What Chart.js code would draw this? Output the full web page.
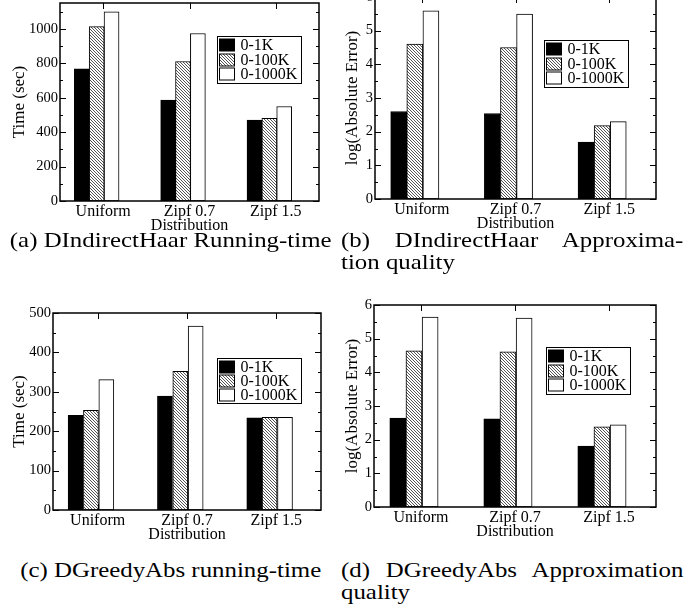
<!DOCTYPE html>
<html>
<head>
<meta charset="utf-8">
<script src="https://cdn.jsdelivr.net/npm/chart.js@4.4.0/dist/chart.umd.min.js"></script>
<style>
  html, body { margin: 0; padding: 0; background: #fff; }
  body { width: 689px; height: 604px; position: relative; overflow: hidden;
         font-family: 'Liberation Serif', 'Times New Roman', serif; color: #000; }
  .panel { position: absolute; }
  .panel canvas { display: block; }
  .cap { position: absolute; font-size: 22px; line-height: 22px; white-space: nowrap;
         transform-origin: 0 0; transform: scaleX(1.13); }
  .just { text-align: justify; text-align-last: justify; }
</style>
</head>
<body>

<div class="panel" style="left:0;top:-10px"><canvas id="chart-a" width="340" height="246"></canvas></div>
<div class="panel" style="left:340px;top:-20px"><canvas id="chart-b" width="349" height="256"></canvas></div>
<div class="panel" style="left:0;top:300px"><canvas id="chart-c" width="340" height="245"></canvas></div>
<div class="panel" style="left:340px;top:290px"><canvas id="chart-d" width="349" height="252"></canvas></div>

<!-- légendes des sous-figures -->
<div class="cap" style="left:4px;top:229px;width:295px;text-align:center">(a) DIndirectHaar Running-time</div>
<div class="cap just" style="left:341px;top:229px;width:303px">(b) DIndirectHaar Approxima-</div>
<div class="cap" style="left:341px;top:251px">tion quality</div>
<div class="cap" style="left:4px;top:559px;width:295px;text-align:center">(c) DGreedyAbs running-time</div>
<div class="cap just" style="left:341px;top:559px;width:303px">(d) DGreedyAbs Approximation</div>
<div class="cap" style="left:341px;top:581px">quality</div>

<script>
// ── Données ───────────────────────────────────────────────────────────────────
const CATEGORIES = ['Uniform', 'Zipf 0.7', 'Zipf 1.5'];
const SERIES     = ['0-1K', '0-100K', '0-1000K'];

// (a) DIndirectHaar : temps d'exécution (sec)
const HAAR_TIME_1K    = [767, 586, 470];
const HAAR_TIME_100K  = [1013, 810, 480];
const HAAR_TIME_1000K = [1099, 973, 549];

// (b) DIndirectHaar : log(erreur absolue)
const HAAR_ERR_1K    = [2.60, 2.54, 1.69];
const HAAR_ERR_100K  = [4.60, 4.50, 2.18];
const HAAR_ERR_1000K = [5.59, 5.49, 2.30];

// (c) DGreedyAbs : temps d'exécution (sec)
const GREEDY_TIME_1K    = [240, 289, 234];
const GREEDY_TIME_100K  = [253, 352, 235];
const GREEDY_TIME_1000K = [331, 467, 235];

// (d) DGreedyAbs : log(erreur absolue)
const GREEDY_ERR_1K    = [2.64, 2.62, 1.81];
const GREEDY_ERR_100K  = [4.64, 4.61, 2.38];
const GREEDY_ERR_1000K = [5.64, 5.61, 2.44];

// ── Style ─────────────────────────────────────────────────────────────────────
const FONT = '"Liberation Serif", "Times New Roman", serif';
Chart.defaults.font.family = FONT;
Chart.defaults.color = '#000';

const BAR_OFFSET = [-0.247, -0.075, 0.097];   // décalage de chaque série autour du tick
const BAR_FRAC   = 0.172;                     // largeur d'une barre en unités de catégorie

function hatch() {
  const c = document.createElement('canvas');
  c.width = 3; c.height = 3;
  const g = c.getContext('2d');
  g.fillStyle = '#fff'; g.fillRect(0, 0, 3, 3);
  g.fillStyle = '#555';
  for (let i = 0; i < 3; i++) g.fillRect(i, i, 1, 1);
  return g.createPattern(c, 'repeat');
}
const FILLS = ['#000', hatch(), '#fff'];

// ── Plugins : cadre + ticks intérieurs, légende encadrée ──────────────────────
const frameTicks = {
  id: 'frameTicks',
  beforeDatasetsDraw(chart, args, opts) {
    const { ctx, chartArea: a, scales: { x, y } } = chart;
    ctx.save();
    ctx.strokeStyle = '#000';
    ctx.lineWidth = 1;
    ctx.beginPath();
    const n = Math.round(y.max / opts.minor);
    for (let k = 0; k <= n; k++) {
      const v = k * opts.minor;
      const py = Math.round(y.getPixelForValue(v)) + 0.5;
      const len = (k % 2 === 0) ? 6 : 3;
      ctx.moveTo(a.left, py);  ctx.lineTo(a.left + len, py);
      ctx.moveTo(a.right, py); ctx.lineTo(a.right - len, py);
    }
    x.ticks.forEach(t => {
      const px = Math.round(x.getPixelForValue(t.value)) + 0.5;
      ctx.moveTo(px, a.top);    ctx.lineTo(px, a.top + 6);
      ctx.moveTo(px, a.bottom); ctx.lineTo(px, a.bottom - 6);
    });
    ctx.stroke();
    ctx.restore();
  },
  afterDatasetsDraw(chart) {
    const { ctx, chartArea: a } = chart;
    ctx.save();
    ctx.strokeStyle = '#000';
    ctx.lineWidth = 1.5;
    ctx.strokeRect(a.left, a.top, a.right - a.left, a.bottom - a.top);
    ctx.restore();
  }
};

const boxLegend = {
  id: 'boxLegend',
  afterDraw(chart, args, opts) {
    const { ctx, chartArea: a } = chart;
    const x0 = Math.round(a.left + opts.left) + 0.5;
    const y0 = Math.round(a.top + opts.top) + 0.5;
    ctx.save();
    ctx.font = `16px ${FONT}`;
    const labels = chart.data.datasets.map(d => d.label);
    const tw = Math.max(...labels.map(l => ctx.measureText(l).width));
    const w = Math.round(24 + tw + 3), h = Math.round(labels.length * opts.rowH + 3);
    ctx.fillStyle = '#fff';
    ctx.fillRect(x0, y0, w, h);
    ctx.strokeStyle = '#000';
    ctx.lineWidth = 1;
    ctx.strokeRect(x0, y0, w, h);
    chart.data.datasets.forEach((ds, i) => {
      const cy = Math.round(y0 + 1.5 + opts.rowH * (i + 0.5));
      ctx.fillStyle = ds.backgroundColor;
      ctx.fillRect(x0 + 2, cy - 6, 15, 12);
      ctx.strokeRect(x0 + 2, cy - 6, 15, 12);
      ctx.fillStyle = '#000';
      ctx.textBaseline = 'middle';
      ctx.fillText(ds.label, x0 + 23, cy + 1);
    });
    ctx.restore();
  }
};

// ── Construction d'un graphique ───────────────────────────────────────────────
// box : position de la zone de tracé dans le canvas (L, R, T, B)
function makeChart(id, box, seriesValues, yCfg, legendPos, titlePad) {
  const canvas = document.getElementById(id);
  const W = canvas.width, H = canvas.height;
  const xAxisH = 35;
  const barPx = Math.round(BAR_FRAC * (box.R - box.L) / CATEGORIES.length);

  return new Chart(canvas, {
    type: 'bar',
    data: {
      datasets: SERIES.map((name, s) => ({
        label: name,
        data: seriesValues[s].map((v, i) => ({ x: i + 1 + BAR_OFFSET[s], y: v })),
        backgroundColor: FILLS[s],
        borderColor: '#000',
        borderWidth: 1,
        borderSkipped: false,
        grouped: false,
        barThickness: barPx,
      })),
    },
    options: {
      responsive: false,
      animation: false,
      layout: { padding: { left: 0, right: W - box.R, top: box.T, bottom: Math.max(0, H - box.B - xAxisH) } },
      plugins: {
        legend: { display: false },
        tooltip: { enabled: false },
        frameTicks: { minor: yCfg.step / 2 },
        boxLegend: legendPos,
      },
      scales: {
        x: {
          type: 'linear',
          offset: false,
          min: 0.5, max: CATEGORIES.length + 0.5,
          afterBuildTicks: s => { s.ticks = CATEGORIES.map((c, i) => ({ value: i + 1 })); },
          afterFit: s => { s.height = xAxisH; },
          grid: { display: false, drawTicks: false, offset: false },
          border: { display: false },
          ticks: { autoSkip: false, maxRotation: 0, padding: 1, font: { size: 16 },
                   callback: v => CATEGORIES[v - 1] ?? '' },
          title: { display: true, text: 'Distribution', font: { size: 16 }, padding: { top: 0, bottom: 1 } },
        },
        y: {
          min: 0, max: yCfg.max,
          afterFit: s => { s.width = box.L; },
          grid: { display: false, drawTicks: false },
          border: { display: false },
          ticks: { stepSize: yCfg.step, includeBounds: false, padding: 2, font: { size: 14.5 },
                   callback: v => String(v) },
          title: { display: true, text: yCfg.title, font: { size: 17 }, padding: { top: titlePad, bottom: 0 } },
        },
      },
    },
    plugins: [frameTicks, boxLegend],
  });
}

makeChart('chart-a', { L: 60, R: 319, T: 13, B: 211 },
  [HAAR_TIME_1K, HAAR_TIME_100K, HAAR_TIME_1000K],
  { max: 1150, step: 200, title: 'Time (sec)' },
  { left: 157, top: 33, rowH: 14.5 }, 9.5);

makeChart('chart-b', { L: 35, R: 316, T: 17, B: 219 },
  [HAAR_ERR_1K, HAAR_ERR_100K, HAAR_ERR_1000K],
  { max: 6, step: 1, title: 'log(Absolute Error)' },
  { left: 169, top: 43, rowH: 14.5 }, 2.5);

makeChart('chart-c', { L: 53, R: 321, T: 13, B: 210 },
  [GREEDY_TIME_1K, GREEDY_TIME_100K, GREEDY_TIME_1000K],
  { max: 500, step: 100, title: 'Time (sec)' },
  { left: 164, top: 45, rowH: 14 }, 9.5);

makeChart('chart-d', { L: 34, R: 316, T: 15, B: 217 },
  [GREEDY_ERR_1K, GREEDY_ERR_100K, GREEDY_ERR_1000K],
  { max: 6, step: 1, title: 'log(Absolute Error)' },
  { left: 172, top: 42, rowH: 14.5 }, 2.5);
</script>
</body>
</html>
